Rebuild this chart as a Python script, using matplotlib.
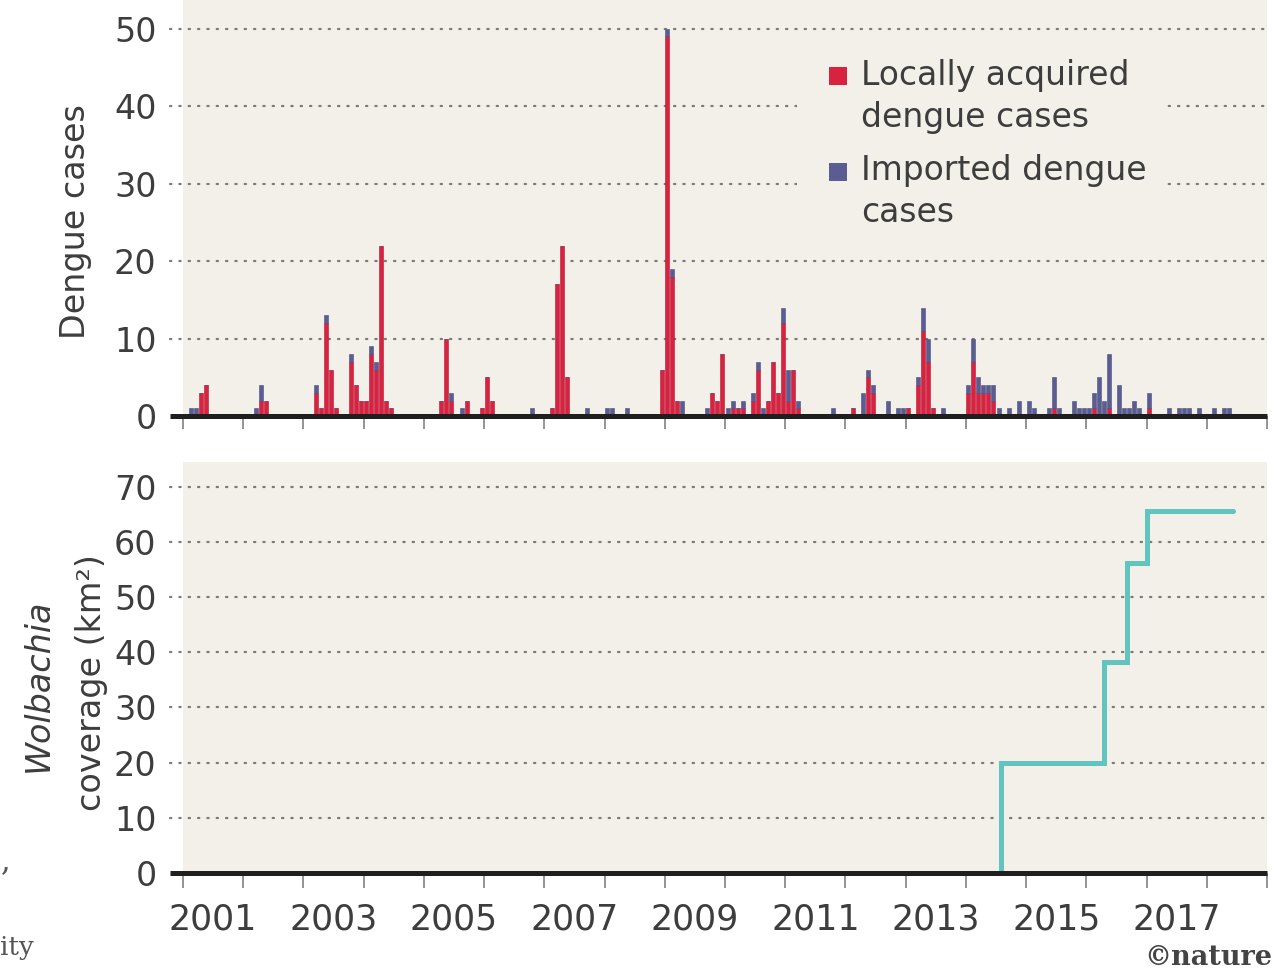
import matplotlib
matplotlib.use("Agg")
import matplotlib.pyplot as plt
from matplotlib.patches import Rectangle

# ---------------- data ----------------
# month index counted from January 2001 (0 = Jan 2001)
months = [1, 2, 3, 4, 14, 15, 16, 26, 27, 28, 29, 30, 33, 34, 35, 36, 37, 38, 39, 40, 41,
          51, 52, 53, 55, 56, 59, 60, 61, 69, 73, 74, 75, 76, 80, 84, 85, 88,
          95, 96, 97, 98, 99, 104, 105, 106, 107, 108, 109, 110, 111, 113, 114, 115, 116,
          117, 118, 119, 120, 121, 122, 129, 133, 135, 136, 137, 140, 142, 143, 144,
          146, 147, 148, 149, 151, 156, 157, 158, 159, 160, 161, 162, 164, 166, 168, 169,
          172, 173, 174, 177, 178, 179, 180, 181, 182, 183, 184, 186, 187, 188, 189, 190,
          192, 196, 198, 199, 200, 202, 205, 207, 208]
local_cases = [0, 0, 3, 4, 0, 2, 2, 3, 1, 12, 6, 1, 7, 4, 2, 2, 8, 6, 22, 2, 1,
               2, 10, 2, 0, 2, 1, 5, 2, 0, 1, 17, 22, 5, 0, 0, 0, 0,
               6, 49, 18, 2, 0, 0, 3, 2, 8, 0, 1, 1, 1, 2, 6, 0, 2,
               7, 3, 12, 2, 6, 1, 0, 1, 0, 5, 3, 0, 0, 0, 1,
               4, 11, 7, 1, 0, 3, 7, 3, 3, 3, 2, 0, 0, 0, 0, 0,
               0, 1, 0, 0, 0, 0, 0, 1, 0, 0, 1, 0, 0, 0, 0, 0,
               1, 0, 0, 0, 0, 0, 0, 0, 0]
imported_cases = [1, 1, 0, 0, 1, 2, 0, 1, 0, 1, 0, 0, 1, 0, 0, 0, 1, 1, 0, 0, 0,
                  0, 0, 1, 1, 0, 0, 0, 0, 1, 0, 0, 0, 0, 1, 1, 1, 1,
                  0, 1, 1, 0, 2, 1, 0, 0, 0, 1, 1, 0, 1, 1, 1, 1, 0,
                  0, 0, 2, 4, 0, 1, 1, 0, 3, 1, 1, 2, 1, 1, 0,
                  1, 3, 3, 0, 1, 1, 3, 2, 1, 1, 2, 1, 1, 2, 2, 1,
                  1, 4, 1, 2, 1, 1, 1, 2, 5, 2, 7, 4, 1, 1, 2, 1,
                  2, 1, 1, 1, 1, 1, 1, 1, 1]

# Wolbachia coverage (km^2), step changes
cov_dates = [2014.58, 2014.58, 2016.30, 2016.67, 2017.00, 2018.43]
cov_values = [0, 20, 38.3, 56.2, 65.7, 65.7]

top_yticks = [0, 10, 20, 30, 40, 50]
bot_yticks = [0, 10, 20, 30, 40, 50, 60, 70]
year_ticks = list(range(2001, 2020))
year_labels = [2001, 2003, 2005, 2007, 2009, 2011, 2013, 2015, 2017]

# ---------------- style ----------------
W, H = 1276, 972
BG = "#F3F0E9"
RED = "#D8223F"
BLUE = "#5B5D92"
TEAL = "#62C4BF"
TXT = "#3d3d3d"
GRID = "#7a7a7a"
FS = 24

plt.rcParams["font.family"] = ["DejaVu Sans"]
fig = plt.figure(figsize=(W / 100, H / 100), dpi=100, facecolor="white")

def px_axes(left, top, right, bottom):
    return fig.add_axes([left / W, 1 - bottom / H, (right - left) / W, (bottom - top) / H])

ax1 = px_axes(183, 0, 1267, 416)
ax2 = px_axes(183, 462, 1267, 873)

for ax in (ax1, ax2):
    ax.set_facecolor(BG)
    for s in ax.spines.values():
        s.set_visible(False)
    ax.set_xlim(2001, 2019)
    ax.set_xticks(year_ticks)
    ax.set_xticklabels([])
    ax.tick_params(axis="y", length=0, pad=19, labelsize=FS, labelcolor=TXT)

def grid_and_base(ax, ticks):
    tr = ax.get_yaxis_transform()
    for v in ticks:
        if v == 0:
            continue
        ax.plot([-0.012, 1], [v, v], transform=tr, clip_on=False, color=GRID,
                lw=1.6, linestyle=(0, (0.6, 3.6)), dash_capstyle="round", zorder=1)
    ax.plot([-0.012, 1], [0, 0], transform=tr, clip_on=False, color="#1f1f1f",
            lw=3.6, solid_capstyle="butt", zorder=6)

# ---------------- top panel ----------------
ax1.set_ylim(0, 53.7)
ax1.set_yticks(top_yticks)
ax1.tick_params(axis="x", which="major", length=9, width=1.1, color="#777777", direction="out")
grid_and_base(ax1, top_yticks)

xs = [2001 + (m + 0.5) / 12 for m in months]
bw = 0.8 / 12
ax1.bar(xs, local_cases, width=bw, color=RED, edgecolor="#B81734", linewidth=0.4, zorder=3)
ax1.bar(xs, imported_cases, bottom=local_cases, width=bw, color=BLUE,
        edgecolor="#4B4D7E", linewidth=0.4, zorder=3)

# legend (manual)
ax1.add_patch(Rectangle(((797 - 183) / 1084, 1 - 228 / 416), (1165 - 797) / 1084, (228 - 52) / 416,
                        transform=ax1.transAxes, facecolor=BG, edgecolor="none", zorder=2))
sq_w, sq_h = 18 / 1084, 18 / 416
ax1.add_patch(Rectangle(((829 - 183) / 1084, 1 - 85 / 416), sq_w, sq_h, transform=ax1.transAxes,
                        facecolor=RED, edgecolor="none", zorder=4))
ax1.add_patch(Rectangle(((829 - 183) / 1084, 1 - 181 / 416), sq_w, sq_h, transform=ax1.transAxes,
                        facecolor=BLUE, edgecolor="none", zorder=4))
tx = (861 - 183) / 1084
for label, ypx in [("Locally acquired", 75), ("dengue cases", 117),
                   ("Imported dengue", 170), ("cases", 212)]:
    ax1.text(tx, 1 - ypx / 416, label, transform=ax1.transAxes, ha="left", va="center",
             fontsize=FS - 0.2, color=TXT, zorder=5)

# ---------------- bottom panel ----------------
ax2.set_ylim(0, 74.5)
ax2.set_yticks(bot_yticks)
ax2.tick_params(axis="x", which="major", length=11, width=1.1, color="#777777", direction="out")
ax2.set_xticks([y + 0.5 for y in year_labels], minor=True)
ax2.set_xticklabels([str(y) for y in year_labels], minor=True)
ax2.tick_params(axis="x", which="minor", length=0, pad=21, labelsize=FS + 1, labelcolor=TXT)
grid_and_base(ax2, bot_yticks)

ax2.step(cov_dates, cov_values, where="post", color=TEAL, lw=3.6,
         solid_capstyle="round", solid_joinstyle="miter", zorder=4)

# ---------------- axis titles ----------------
fig.text(75 / W, 1 - 222 / H, "Dengue cases", rotation=90, ha="center", va="center",
         fontsize=FS, color=TXT)
fig.text(38 / W, 1 - 685 / H, "Wolbachia", rotation=90, ha="center", va="center",
         fontsize=FS, color=TXT, style="italic")
fig.text(92 / W, 1 - 683 / H, "coverage (km²)", rotation=90, ha="center", va="center",
         fontsize=FS, color=TXT)

# stray article text fragments and credit
fig.text(1 / W, 1 - 862 / H, ",", ha="left", va="center", fontsize=22, color="#555555",
         family="DejaVu Serif")
fig.text(0 / W, 1 - 947 / H, "ity", ha="left", va="center", fontsize=19, color="#555555",
         family="DejaVu Serif")
fig.text(1272 / W, 1 - 957 / H, "©nature", ha="right", va="center", fontsize=19.5, color="#444444",
         family="DejaVu Serif", weight="bold")

fig.savefig("out.png", dpi=100, facecolor="white")
